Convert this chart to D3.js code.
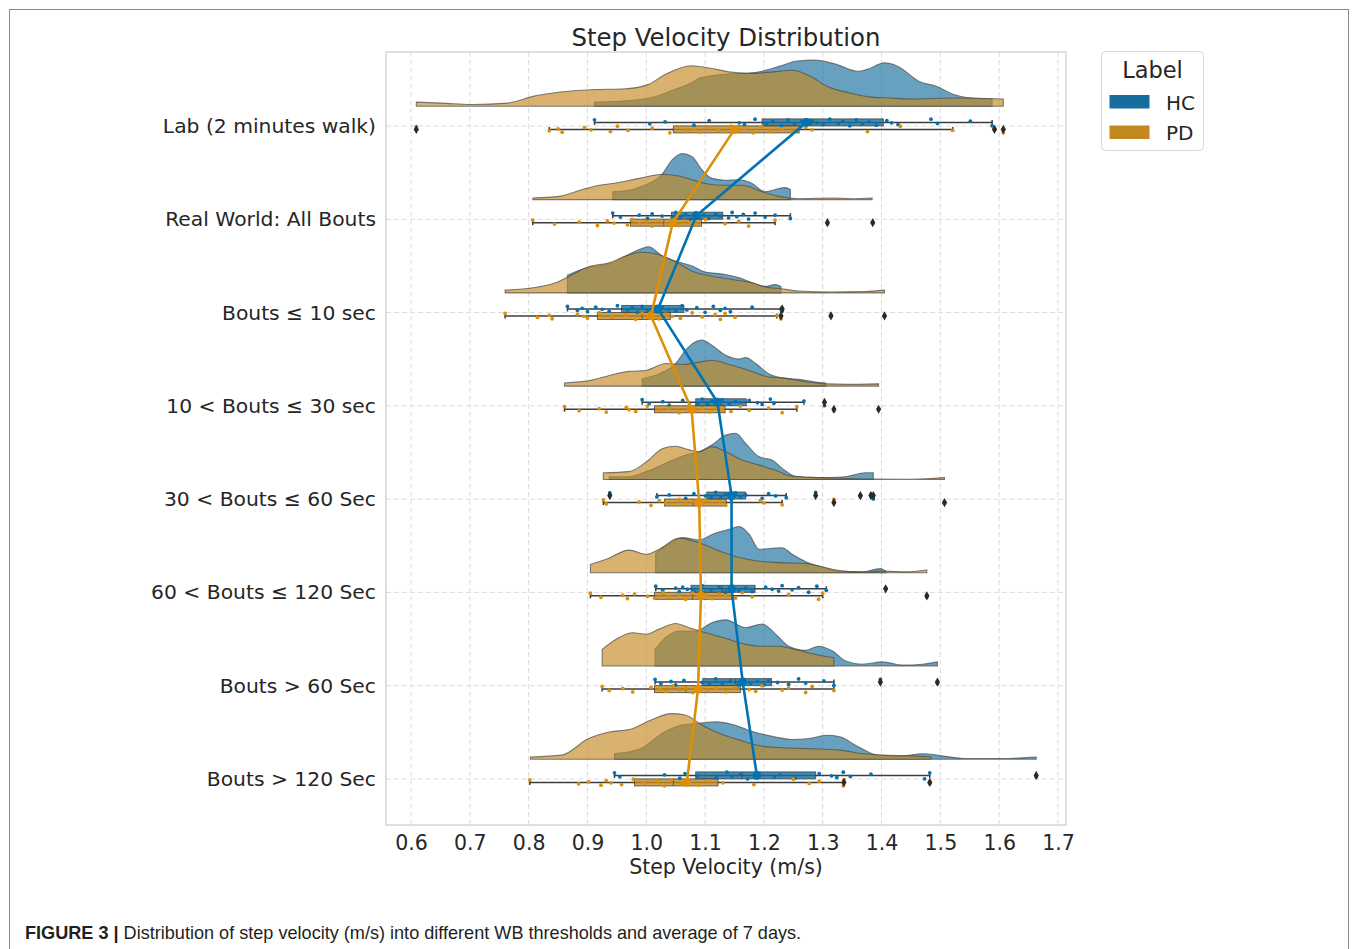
<!DOCTYPE html>
<html><head><meta charset="utf-8">
<script src="https://cdn.jsdelivr.net/npm/d3@7"></script>
<style>body{margin:0;background:#fff;} svg{display:block;}</style>
</head><body><svg id="c" width="1358" height="949"></svg>
<script>
// ---------------- DATA ----------------
const categories = ["Lab (2 minutes walk)", "Real World: All Bouts", "Bouts \u2264 10 sec",
  "10 < Bouts \u2264 30 sec", "30 < Bouts \u2264 60 Sec", "60 < Bouts \u2264 120 Sec",
  "Bouts > 60 Sec", "Bouts > 120 Sec"];
const groups = ["HC", "PD"];
const xTicks = [0.6,0.7,0.8,0.9,1.0,1.1,1.2,1.3,1.4,1.5,1.6,1.7];

// half-violin profiles: [velocity, relative density]
const hcDensity = [
  [[0.912,0.09],[0.965,0.12],[1.018,0.22],[1.047,0.36],[1.077,0.51],[1.092,0.62],[1.152,0.71],[1.174,0.72],[1.197,0.76],[1.227,0.87],[1.256,0.98],[1.286,1.0],[1.323,0.91],[1.36,0.76],[1.375,0.80],[1.405,0.94],[1.427,0.87],[1.464,0.54],[1.494,0.43],[1.524,0.25],[1.554,0.18],[1.588,0.16]],
  [[0.943,0.17],[0.965,0.19],[0.993,0.29],[1.027,0.55],[1.044,0.86],[1.061,1.0],[1.078,0.93],[1.095,0.64],[1.112,0.46],[1.134,0.42],[1.157,0.43],[1.18,0.35],[1.202,0.17],[1.219,0.22],[1.236,0.26],[1.245,0.22]],
  [[0.866,0.38],[0.897,0.54],[0.937,0.62],[0.965,0.80],[0.988,0.94],[1.004,1.0],[1.027,0.80],[1.05,0.69],[1.078,0.58],[1.10,0.45],[1.134,0.40],[1.157,0.33],[1.18,0.22],[1.202,0.14],[1.219,0.18],[1.229,0.14]],
  [[0.993,0.16],[1.022,0.27],[1.05,0.49],[1.067,0.78],[1.084,0.96],[1.095,1.0],[1.112,0.88],[1.135,0.67],[1.158,0.59],[1.169,0.62],[1.186,0.49],[1.208,0.27],[1.231,0.18],[1.265,0.14],[1.288,0.09],[1.305,0.07]],
  [[0.937,0.06],[0.971,0.06],[1.0,0.17],[1.033,0.35],[1.067,0.53],[1.09,0.60],[1.112,0.75],[1.135,0.96],[1.152,1.0],[1.169,0.78],[1.192,0.49],[1.214,0.42],[1.231,0.24],[1.254,0.07],[1.293,0.04],[1.338,0.06],[1.372,0.145],[1.386,0.145]],
  [[1.016,0.43],[1.039,0.62],[1.062,0.76],[1.09,0.71],[1.112,0.83],[1.141,0.94],[1.158,1.0],[1.175,0.83],[1.192,0.51],[1.214,0.53],[1.231,0.54],[1.248,0.40],[1.271,0.24],[1.293,0.145],[1.327,0.036],[1.367,0.02],[1.398,0.09],[1.407,0.036]],
  [[1.015,0.36],[1.033,0.62],[1.056,0.76],[1.084,0.76],[1.112,0.94],[1.135,1.0],[1.169,0.83],[1.197,0.91],[1.22,0.69],[1.242,0.43],[1.271,0.34],[1.293,0.43],[1.316,0.33],[1.339,0.11],[1.367,0.04],[1.402,0.09],[1.436,0.02],[1.47,0.04],[1.495,0.09]],
  [[0.946,0.12],[0.99,0.23],[1.031,0.59],[1.06,0.74],[1.089,0.78],[1.119,0.81],[1.148,0.75],[1.183,0.59],[1.218,0.49],[1.247,0.43],[1.277,0.45],[1.306,0.52],[1.329,0.49],[1.358,0.29],[1.394,0.09],[1.429,0.07],[1.47,0.12],[1.505,0.07],[1.546,0.015],[1.604,0.015],[1.645,0.036],[1.663,0.05]]
];
const pdDensity = [
  [[0.609,0.09],[0.652,0.07],[0.704,0.04],[0.764,0.07],[0.809,0.22],[0.854,0.31],[0.906,0.36],[0.965,0.38],[1.003,0.47],[1.032,0.69],[1.077,0.88],[1.107,0.83],[1.144,0.74],[1.174,0.71],[1.211,0.74],[1.249,0.78],[1.279,0.65],[1.308,0.43],[1.346,0.29],[1.383,0.20],[1.413,0.18],[1.45,0.16],[1.525,0.18],[1.607,0.16]],
  [[0.807,0.036],[0.852,0.07],[0.892,0.22],[0.92,0.31],[0.948,0.36],[0.988,0.46],[1.027,0.55],[1.055,0.51],[1.078,0.43],[1.10,0.35],[1.134,0.31],[1.163,0.31],[1.197,0.17],[1.225,0.07],[1.259,0.02],[1.315,0.036],[1.349,0.02],[1.384,0.036]],
  [[0.76,0.06],[0.807,0.11],[0.846,0.22],[0.875,0.40],[0.903,0.57],[0.937,0.65],[0.965,0.80],[0.993,0.88],[1.021,0.83],[1.05,0.67],[1.078,0.47],[1.112,0.36],[1.146,0.29],[1.18,0.22],[1.202,0.13],[1.229,0.09],[1.259,0.04],[1.315,0.02],[1.372,0.03],[1.405,0.06]],
  [[0.861,0.07],[0.903,0.12],[0.949,0.27],[0.971,0.32],[0.999,0.34],[1.033,0.49],[1.062,0.47],[1.09,0.52],[1.112,0.56],[1.141,0.47],[1.175,0.34],[1.208,0.20],[1.231,0.18],[1.265,0.11],[1.305,0.05],[1.344,0.04],[1.395,0.05]],
  [[0.927,0.145],[0.971,0.17],[1.0,0.38],[1.028,0.67],[1.05,0.72],[1.073,0.64],[1.09,0.60],[1.112,0.71],[1.135,0.60],[1.163,0.42],[1.192,0.31],[1.22,0.20],[1.248,0.07],[1.293,0.04],[1.338,0.02],[1.384,0.01],[1.451,0.005],[1.507,0.04]],
  [[0.905,0.18],[0.932,0.29],[0.971,0.49],[1.0,0.40],[1.022,0.51],[1.056,0.75],[1.09,0.65],[1.124,0.47],[1.158,0.33],[1.192,0.25],[1.225,0.22],[1.271,0.20],[1.293,0.145],[1.327,0.05],[1.367,0.015],[1.406,0.036],[1.44,0.02],[1.477,0.06]],
  [[0.925,0.36],[0.954,0.62],[0.977,0.72],[1.0,0.69],[1.022,0.80],[1.05,0.92],[1.073,0.83],[1.101,0.72],[1.135,0.60],[1.169,0.47],[1.192,0.43],[1.225,0.43],[1.259,0.34],[1.288,0.25],[1.319,0.18]],
  [[0.803,0.05],[0.856,0.09],[0.902,0.45],[0.937,0.59],[0.973,0.65],[1.008,0.85],[1.043,0.99],[1.066,0.96],[1.095,0.74],[1.125,0.56],[1.16,0.41],[1.195,0.29],[1.23,0.25],[1.282,0.23],[1.329,0.20],[1.37,0.12],[1.405,0.09],[1.458,0.07],[1.484,0.05]]
];

// box statistics
const hcQ1  = [1.197, 1.043, 0.958, 1.084, 1.103, 1.076, 1.096, 1.084];
const hcMed = [1.280, 1.090, 1.016, 1.124, 1.146, 1.129, 1.152, 1.163];
const hcQ3  = [1.403, 1.130, 1.064, 1.170, 1.169, 1.185, 1.213, 1.288];
const hcLo  = [0.912, 0.943, 0.866, 0.993, 1.018, 1.016, 1.015, 0.946];
const hcHi  = [1.588, 1.245, 1.229, 1.268, 1.238, 1.306, 1.319, 1.482];
const hcOut = [[],[],[1.231],[1.303],[0.938,1.288,1.364,1.382,1.386],[1.407],[1.398,1.495],[1.663]];
const pdQ1  = [1.046, 0.973, 0.917, 1.014, 1.031, 1.014, 1.014, 0.980];
const pdMed = [1.148, 1.030, 0.993, 1.073, 1.080, 1.079, 1.067, 1.046];
const pdQ3  = [1.260, 1.094, 1.041, 1.134, 1.136, 1.145, 1.160, 1.122];
const pdLo  = [0.835, 0.807, 0.760, 0.861, 0.927, 0.905, 0.925, 0.802];
const pdHi  = [1.521, 1.219, 1.222, 1.256, 1.231, 1.300, 1.319, 1.335];
const pdOut = [[0.609,1.592,1.607],[1.308,1.385],[1.229,1.314,1.405],[1.319,1.395],[1.319,1.507],[1.477],[],[1.336,1.482]];

// means (point plot)
const hcMean = [1.272, 1.085, 1.020, 1.121, 1.145, 1.145, 1.164, 1.188];
const pdMean = [1.150, 1.045, 1.008, 1.077, 1.090, 1.093, 1.088, 1.069];

// individual subjects (rain)
const hcPoints = [
  [0.912,1.006,1.032,1.081,1.107,1.158,1.167,1.185,1.204,1.215,1.23,1.241,1.252,1.264,1.271,1.282,1.29,1.301,1.312,1.327,1.334,1.346,1.357,1.368,1.379,1.391,1.409,1.417,1.428,1.484,1.495,1.551,1.588],
  [0.943,0.956,0.988,1.002,1.01,1.027,1.044,1.05,1.058,1.067,1.075,1.084,1.089,1.098,1.106,1.118,1.126,1.14,1.146,1.154,1.165,1.174,1.185,1.202,1.219,1.245],
  [0.866,0.883,0.891,0.9,0.914,0.925,0.937,0.951,0.968,0.976,0.985,0.993,1.002,1.01,1.019,1.027,1.038,1.05,1.061,1.069,1.086,1.1,1.114,1.126,1.134,1.143,1.18,1.229,1.231],
  [0.993,1.005,1.028,1.039,1.062,1.073,1.087,1.095,1.104,1.112,1.121,1.129,1.141,1.152,1.16,1.175,1.189,1.197,1.211,1.217,1.268,1.303],
  [0.938,1.018,1.039,1.067,1.081,1.101,1.11,1.118,1.127,1.135,1.144,1.152,1.16,1.169,1.197,1.208,1.22,1.238,1.288,1.364,1.382,1.386],
  [1.016,1.028,1.05,1.056,1.062,1.07,1.081,1.095,1.11,1.124,1.135,1.146,1.158,1.169,1.18,1.203,1.214,1.225,1.231,1.248,1.259,1.276,1.29,1.306,1.407],
  [1.015,1.025,1.042,1.05,1.064,1.095,1.107,1.118,1.129,1.143,1.155,1.166,1.177,1.189,1.2,1.208,1.223,1.242,1.259,1.271,1.302,1.319,1.398,1.495],
  [0.946,0.955,1.031,1.057,1.066,1.087,1.119,1.137,1.146,1.16,1.172,1.189,1.218,1.227,1.253,1.294,1.315,1.324,1.335,1.347,1.382,1.473,1.482,1.663]
];
const pdPoints = [
  [0.609,0.835,0.85,0.857,0.895,0.906,0.939,0.951,0.969,1.01,1.04,1.055,1.07,1.081,1.092,1.107,1.122,1.133,1.144,1.156,1.167,1.182,1.197,1.211,1.23,1.249,1.271,1.282,1.376,1.432,1.521,1.592,1.607],
  [0.807,0.844,0.886,0.917,0.934,0.945,0.968,0.976,0.988,0.999,1.01,1.021,1.033,1.044,1.055,1.064,1.075,1.084,1.101,1.134,1.157,1.174,1.219,1.308,1.385],
  [0.76,0.815,0.835,0.84,0.883,0.894,0.9,0.92,0.942,0.965,0.982,0.993,1.002,1.01,1.021,1.033,1.044,1.058,1.078,1.095,1.117,1.126,1.134,1.151,1.222,1.229,1.314,1.405],
  [0.861,0.886,0.92,0.932,0.966,0.971,0.982,1.002,1.022,1.039,1.056,1.073,1.084,1.095,1.107,1.118,1.129,1.144,1.16,1.175,1.208,1.231,1.256,1.319,1.395],
  [0.927,0.932,0.988,1.008,1.022,1.033,1.045,1.056,1.067,1.081,1.09,1.101,1.112,1.124,1.135,1.194,1.2,1.231,1.319,1.507],
  [0.905,0.923,0.96,0.968,0.98,1.002,1.014,1.028,1.039,1.056,1.067,1.079,1.09,1.101,1.112,1.124,1.135,1.152,1.163,1.18,1.242,1.293,1.3,1.477],
  [0.925,0.937,0.96,0.977,1.008,1.022,1.033,1.045,1.056,1.067,1.079,1.09,1.104,1.118,1.135,1.152,1.175,1.186,1.197,1.231,1.242,1.271,1.282,1.319],
  [0.802,0.885,0.902,0.923,0.932,0.94,0.958,0.978,0.996,1.019,1.031,1.043,1.06,1.072,1.089,1.107,1.13,1.183,1.25,1.277,1.294,1.335,1.336,1.482]
];

// ---------------- STYLE ----------------
const strong = {HC:"#0173b2", PD:"#de8f05"};
const muted  = {HC:"#176d9c", PD:"#c38820"};
const edge = "#3d3d3d";
const txt = "#262626";
const FONT = "'DejaVu Sans', sans-serif";

const svg = d3.select("#c");
const L = 386, R = 1066, T = 52, B = 825;

const x = d3.scaleLinear().domain([0.5575, 1.7136]).range([L, R]);
const y = d3.scalePoint().domain(categories).range([126, 779]);
const step = y.step();
const maxH = step * 0.495;
const baseOff = step * 0.211;
const boxH = 7;

// figure border
svg.append("rect").attr("x",9.5).attr("y",9.5).attr("width",1339).attr("height",1000)
  .attr("fill","none").attr("stroke","#8a8a8a").attr("stroke-width",1);

// grid
const grid = svg.append("g");
grid.selectAll("line.v").data(xTicks).join("line")
  .attr("x1",d=>x(d)).attr("x2",d=>x(d)).attr("y1",T).attr("y2",B)
  .attr("stroke","#dcdcdc").attr("stroke-width",1).attr("stroke-dasharray","5,3");
grid.selectAll("line.h").data(categories).join("line")
  .attr("x1",L).attr("x2",R).attr("y1",d=>y(d)).attr("y2",d=>y(d))
  .attr("stroke","#dcdcdc").attr("stroke-width",1).attr("stroke-dasharray","5,3");

// violins
const plot = svg.append("g");
categories.forEach((cat, i) => {
  const base = y(cat) - baseOff;
  const area = d3.area().x(d=>x(d[0])).y0(base).y1(d=>base - d[1]*maxH).curve(d3.curveMonotoneX);
  [["HC", hcDensity[i]], ["PD", pdDensity[i]]].forEach(([g, dens]) => {
    plot.append("path").datum(dens).attr("d", area)
      .attr("fill", muted[g]).attr("fill-opacity", 0.65)
      .attr("stroke", "#4a4a4a").attr("stroke-opacity", 0.7).attr("stroke-width", 1.1);
  });
});

// diamond marker
function diamond(cx, cy) {
  const w = 2.6, h = 4.6;
  return `M${cx},${cy-h}L${cx+w},${cy}L${cx},${cy+h}L${cx-w},${cy}Z`;
}

// boxes
const boxG = svg.append("g");
const stats = {
  HC: {q1:hcQ1, med:hcMed, q3:hcQ3, lo:hcLo, hi:hcHi, out:hcOut, pts:hcPoints, off:-3.6},
  PD: {q1:pdQ1, med:pdMed, q3:pdQ3, lo:pdLo, hi:pdHi, out:pdOut, pts:pdPoints, off:3.4}
};
categories.forEach((cat, i) => {
  groups.forEach(g => {
    const s = stats[g];
    const cy = y(cat) + s.off;
    boxG.append("line").attr("x1",x(s.lo[i])).attr("x2",x(s.hi[i])).attr("y1",cy).attr("y2",cy)
      .attr("stroke",edge).attr("stroke-width",1.5);
    [s.lo[i], s.hi[i]].forEach(v => boxG.append("line").attr("x1",x(v)).attr("x2",x(v))
      .attr("y1",cy-2.5).attr("y2",cy+2.5).attr("stroke",edge).attr("stroke-width",1.5));
    boxG.append("rect").attr("x",x(s.q1[i])).attr("width",x(s.q3[i])-x(s.q1[i]))
      .attr("y",cy-boxH/2).attr("height",boxH)
      .attr("fill",muted[g]).attr("fill-opacity",0.8)
      .attr("stroke",edge).attr("stroke-opacity",0.75).attr("stroke-width",1);
    boxG.append("line").attr("x1",x(s.med[i])).attr("x2",x(s.med[i]))
      .attr("y1",cy-boxH/2).attr("y2",cy+boxH/2).attr("stroke",edge).attr("stroke-opacity",0.7).attr("stroke-width",1);
  });
});

// rain (strip points)
const jit = [-2.6, 1.4, -0.6, 2.8, -1.8, 0.4, 2.2, -3.2, 1.0, -1.2, 3.4];
const rainG = svg.append("g");
categories.forEach((cat, i) => {
  groups.forEach(g => {
    const s = stats[g];
    const cy = y(cat) + s.off;
    rainG.selectAll(null).data(s.pts[i]).join("circle")
      .attr("cx", d => x(d)).attr("cy", (d, k) => cy + jit[k % jit.length])
      .attr("r", 1.9).attr("fill", strong[g]);
  });
});

// outliers
const outG = svg.append("g");
categories.forEach((cat, i) => {
  groups.forEach(g => {
    const s = stats[g];
    const cy = y(cat) + s.off;
    s.out[i].forEach(v => outG.append("path").attr("d", diamond(x(v), cy)).attr("fill", "#2a2a2a"));
  });
});

// mean point plot
const lineG = svg.append("g");
[["HC", hcMean], ["PD", pdMean]].forEach(([g, m]) => {
  const off = stats[g].off;
  const pts = categories.map((c, i) => [x(m[i]), y(c) + off]);
  lineG.append("path").attr("d", d3.line()(pts)).attr("fill","none")
    .attr("stroke", strong[g]).attr("stroke-width", 2.6);
  lineG.selectAll(null).data(pts).join("circle").attr("cx", d=>d[0]).attr("cy", d=>d[1])
    .attr("r", 4.4).attr("fill", strong[g]);
});

// frame
svg.append("rect").attr("x",L).attr("y",T).attr("width",R-L).attr("height",B-T)
  .attr("fill","none").attr("stroke","#cccccc").attr("stroke-width",1.25);

// x axis
const xAxis = d3.axisBottom(x).tickValues(xTicks).tickFormat(d3.format(".1f")).tickSize(0).tickPadding(10);
const xa = svg.append("g").attr("transform",`translate(0,${B})`).call(xAxis);
xa.select(".domain").remove();
xa.selectAll("text").attr("font-family",FONT).attr("font-size",20.5).attr("fill",txt);

// y axis
const yAxis = d3.axisLeft(y).tickSize(0).tickPadding(10);
const ya = svg.append("g").attr("transform",`translate(${L},0)`).call(yAxis);
ya.select(".domain").remove();
ya.selectAll("text").attr("font-family",FONT).attr("font-size",20.3).attr("fill",txt);

// titles
svg.append("text").attr("x",(L+R)/2).attr("y",45.5).attr("text-anchor","middle")
  .attr("font-family",FONT).attr("font-size",24.4).attr("fill",txt).text("Step Velocity Distribution");
svg.append("text").attr("x",(L+R)/2).attr("y",874).attr("text-anchor","middle")
  .attr("font-family",FONT).attr("font-size",20.5).attr("fill",txt).text("Step Velocity (m/s)");

// legend
const lg = svg.append("g");
lg.append("rect").attr("x",1101.5).attr("y",51.5).attr("width",102).attr("height",99).attr("rx",4)
  .attr("fill","#fff").attr("stroke","#d8d8d8").attr("stroke-width",1);
lg.append("text").attr("x",1152.5).attr("y",78).attr("text-anchor","middle")
  .attr("font-family",FONT).attr("font-size",22.5).attr("fill",txt).text("Label");
groups.forEach((g, k) => {
  const yy = 95 + k*30.5;
  lg.append("rect").attr("x",1109.5).attr("y",yy).attr("width",40).attr("height",13.5)
    .attr("fill",muted[g]);
  lg.append("text").attr("x",1166).attr("y",yy+14.5).attr("font-family",FONT)
    .attr("font-size",20).attr("fill",txt).text(g);
});

// caption
const cap = svg.append("text").attr("x",25).attr("y",939).attr("font-family","'Liberation Sans', Arial, sans-serif")
  .attr("font-size",18.1).attr("fill","#231f20");
cap.append("tspan").attr("font-weight","bold").text("FIGURE 3 | ");
cap.append("tspan").text("Distribution of step velocity (m/s) into different WB thresholds and average of 7 days.");
</script></body></html>
